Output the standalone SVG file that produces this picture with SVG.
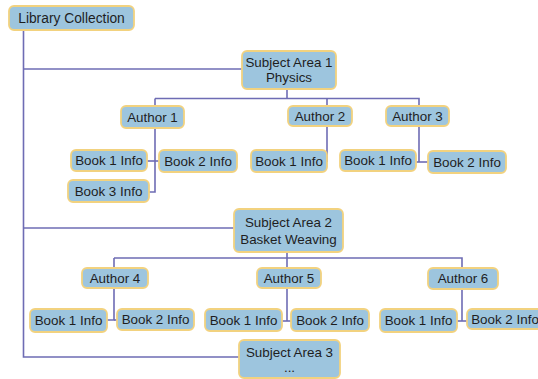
<svg xmlns="http://www.w3.org/2000/svg" width="538" height="379" viewBox="0 0 538 379">
<style>
.n rect{fill:#9dc5de;stroke:#f2d27f;stroke-width:1.8}
.n text{font-family:"Liberation Sans",Arial,sans-serif;font-size:13.4px;fill:#1e1e1e;text-anchor:middle}
#connectors path{fill:none;stroke:#6e6cb4;stroke-width:1.6}
</style>
<rect width="538" height="379" fill="#ffffff"/>
<g id="connectors">
<path d="M23.5,30 V357 H239"/>
<path d="M23.5,69 H242"/>
<path d="M23.5,228 H234"/>
<path d="M287,89 V98.5"/>
<path d="M155,98.5 H419 V162"/>
<path d="M327,98.5 V162"/>
<path d="M155,98.5 V192 H149"/>
<path d="M147,161 H159"/>
<path d="M416,162 H428"/>
<path d="M287,252 V258"/>
<path d="M114,258 H462 V321"/>
<path d="M114,258 V320 H107"/>
<path d="M114,320 H117"/>
<path d="M287,258 V321"/>
<path d="M282,321 H291"/>
<path d="M457,321 H467"/>
</g>
<g id="lib" class="n"><rect x="9" y="6" width="125" height="24" rx="5"/><text x="71.5" y="23" style="font-size:13.8px">Library Collection</text></g>
<g id="sa1" class="n"><rect x="242" y="51" width="94" height="38" rx="5"/><text x="289" y="67">Subject Area 1</text><text x="289" y="82">Physics</text></g>
<g id="a1" class="n"><rect x="121" y="106" width="63" height="22" rx="5"/><text x="152.5" y="121.5">Author 1</text></g>
<g id="a2" class="n"><rect x="288" y="106" width="64" height="20" rx="5"/><text x="320" y="120.5">Author 2</text></g>
<g id="a3" class="n"><rect x="386" y="106" width="63" height="20" rx="5"/><text x="417.5" y="120.5">Author 3</text></g>
<g id="b11" class="n"><rect x="71" y="150" width="76" height="21" rx="5"/><text x="109" y="165">Book 1 Info</text></g>
<g id="b12" class="n"><rect x="159" y="150" width="78" height="22" rx="5"/><text x="198" y="165.5">Book 2 Info</text></g>
<g id="b13" class="n"><rect x="68" y="180" width="81" height="22" rx="5"/><text x="108.5" y="195.5">Book 3 Info</text></g>
<g id="b21" class="n"><rect x="251" y="150" width="76" height="22" rx="5"/><text x="289" y="165.5">Book 1 Info</text></g>
<g id="b31" class="n"><rect x="340" y="150" width="76" height="21" rx="5"/><text x="378" y="165">Book 1 Info</text></g>
<g id="b32" class="n"><rect x="428" y="151" width="78" height="22" rx="5"/><text x="467" y="166.5">Book 2 Info</text></g>
<g id="sa2" class="n"><rect x="234" y="209" width="109" height="43" rx="5"/><text x="288.5" y="227">Subject Area 2</text><text x="288.5" y="243.5">Basket Weaving</text></g>
<g id="a4" class="n"><rect x="82" y="268" width="66" height="20" rx="5"/><text x="115" y="282.5">Author 4</text></g>
<g id="a5" class="n"><rect x="257" y="268" width="64" height="20" rx="5"/><text x="289" y="282.5">Author 5</text></g>
<g id="a6" class="n"><rect x="428" y="268" width="70" height="21" rx="5"/><text x="463" y="283">Author 6</text></g>
<g id="b41" class="n"><rect x="30" y="309" width="77" height="23" rx="5"/><text x="68.5" y="325">Book 1 Info</text></g>
<g id="b42" class="n"><rect x="117" y="309" width="77" height="21" rx="5"/><text x="155.5" y="324">Book 2 Info</text></g>
<g id="b51" class="n"><rect x="205" y="309" width="77" height="22" rx="5"/><text x="243.5" y="324.5">Book 1 Info</text></g>
<g id="b52" class="n"><rect x="291" y="309" width="78" height="22" rx="5"/><text x="330" y="324.5">Book 2 Info</text></g>
<g id="b61" class="n"><rect x="380" y="309" width="77" height="23" rx="5"/><text x="418.5" y="325">Book 1 Info</text></g>
<g id="b62" class="n"><rect x="467" y="309" width="76" height="20" rx="5"/><text x="505" y="323.5">Book 2 Info</text></g>
<g id="sa3" class="n"><rect x="239" y="340" width="101" height="38" rx="5"/><text x="289.5" y="357">Subject Area 3</text><text x="289.5" y="372">...</text></g>
</svg>
